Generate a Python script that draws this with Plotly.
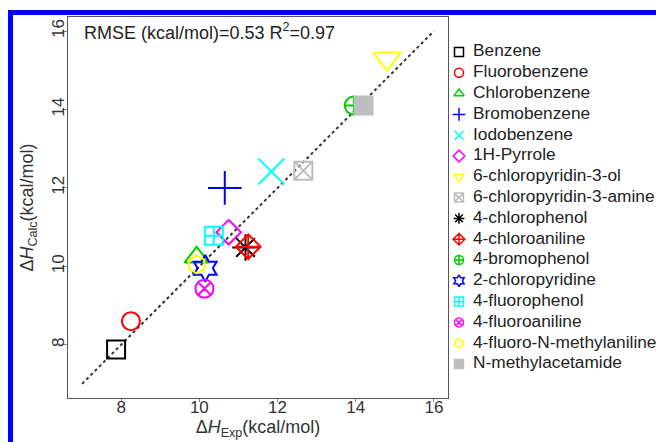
import plotly.graph_objects as go

names = ["Benzene", "Fluorobenzene", "Chlorobenzene", "Bromobenzene", "Iodobenzene",
         "1H-Pyrrole", "6-chloropyridin-3-ol", "6-chloropyridin-3-amine", "4-chlorophenol",
         "4-chloroaniline", "4-bromophenol", "2-chloropyridine", "4-fluorophenol",
         "4-fluoroaniline", "4-fluoro-N-methylaniline", "N-methylacetamide"]
dh_exp = [7.87, 8.25, 9.93, 10.65, 11.84, 10.75, 14.80, 12.66, 11.18,
          11.25, 13.95, 10.15, 10.37, 10.13, 9.93, 14.20]
dh_calc = [7.88, 8.60, 10.23, 12.00, 12.42, 10.87, 15.30, 12.44, 10.48,
           10.50, 14.10, 9.95, 10.78, 9.43, 10.05, 14.10]
symbols = ["square-open", "circle-open", "triangle-up-open", "cross-thin-open", "x-thin-open",
           "diamond-open", "triangle-down-open", "square-x-open", "asterisk-open",
           "diamond-cross-open", "circle-cross-open", "hexagram-open", "square-cross-open",
           "circle-x-open", "hexagon-open", "square"]
colors = ["#000000", "#FF0000", "#00CD00", "#0000FF", "#00FFFF", "#FF00FF", "#FFFF00", "#BEBEBE",
          "#000000", "#FF0000", "#00CD00", "#0000FF", "#00FFFF", "#FF00FF", "#FFFF00", "#BEBEBE"]
sizes = [18, 18, 21, 24, 26, 19, 24, 18, 22, 19, 18, 20, 18, 18, 18, 18]
ref_line = [7, 16]
x_ticks = [8, 10, 12, 14, 16]
y_ticks = [8, 10, 12, 14, 16]

FONT = "Liberation Sans, Arial, Helvetica, sans-serif"

# layout geometry (pixels)
W, H = 656, 442
ML, MT, MB = 68, 17, 44
PLOT_W = 380
area_w = W - ML
area_h = H - MT - MB
split = PLOT_W / area_w

fig = go.Figure()
fig.add_trace(go.Scatter(x=ref_line, y=ref_line, mode="lines",
                         line=dict(color="#333333", width=2, dash="dot"),
                         showlegend=False, hoverinfo="skip"))
for n, xv, yv, s, c, sz in zip(names, dh_exp, dh_calc, symbols, colors, sizes):
    fig.add_trace(go.Scatter(
        x=[xv], y=[yv], mode="markers", name=n, showlegend=False,
        marker=dict(symbol=s, size=sz, color=c, line=dict(color=c, width=2))))

# legend drawn on a hidden side axis (R-style key)
key_rows = [35 + 20.8 * i for i in range(len(names))]
fig.add_trace(go.Scatter(
    x=[11] * len(names), y=key_rows, mode="markers", xaxis="x2", yaxis="y2",
    showlegend=False, hoverinfo="skip",
    marker=dict(symbol=symbols, size=9, color=colors, line=dict(color=colors, width=1.5))))
fig.add_trace(go.Scatter(
    x=[25] * len(names), y=key_rows, mode="text", text=names, textposition="middle right",
    xaxis="x2", yaxis="y2", showlegend=False, hoverinfo="skip",
    textfont=dict(family=FONT, size=17.3, color="#222222")))

fig.update_layout(
    width=W, height=H,
    margin=dict(l=ML, r=0, t=MT, b=MB, pad=0),
    paper_bgcolor="white", plot_bgcolor="rgba(0,0,0,0)",
    font=dict(family=FONT, size=18, color="#222222"),
    showlegend=False,
    xaxis=dict(domain=[0, split], range=[6.64, 16.36], tickvals=x_ticks, showgrid=False,
               zeroline=False, showline=True, mirror=True, linecolor="#555555", linewidth=1,
               ticks="outside", ticklen=3, tickcolor="#888888", ticklabelstandoff=-9,
               tickfont=dict(size=17, color="#333333"),
               title=dict(text="Δ<i>H</i><sub>Exp</sub>(kcal/mol)", standoff=0,
                          font=dict(size=18, color="#333333")),
               automargin=False),
    yaxis=dict(range=[6.64, 16.36], tickvals=y_ticks, showgrid=False, zeroline=False,
               showline=True, mirror=True, linecolor="#555555", linewidth=1,
               ticks="outside", ticklen=5, tickcolor="#888888", tickangle=-90,
               ticklabelstandoff=-9,
               tickfont=dict(size=17, color="#333333"),
               title=dict(text="Δ<i>H</i><sub>Calc</sub>(kcal/mol)", standoff=10,
                          font=dict(size=18, color="#333333")),
               automargin=False),
    xaxis2=dict(domain=[split, 1], range=[0, W - ML - PLOT_W], visible=False,
                anchor="y2", fixedrange=True),
    yaxis2=dict(domain=[0, 1], range=[area_h, 0], visible=False, anchor="x2",
                fixedrange=True),
    annotations=[dict(text="RMSE (kcal/mol)=0.53 R<sup>2</sup>=0.97", xref="paper", yref="paper",
                      x=0.024, y=0.997, xanchor="left", yanchor="top", showarrow=False,
                      font=dict(size=18, color="#222222"))],
    shapes=[
        dict(type="line", xref="paper", yref="paper",
             x0=(10.5 - ML) / area_w, x1=(10.5 - ML) / area_w,
             y0=(H - MB - 10) / area_h, y1=(H - MB - 460) / area_h,
             line=dict(color="#0000FF", width=5)),
        dict(type="line", xref="paper", yref="paper",
             x0=(8 - ML) / area_w, x1=(700 - ML) / area_w,
             y0=(H - MB - 12.5) / area_h, y1=(H - MB - 12.5) / area_h,
             line=dict(color="#0000FF", width=5)),
    ],
)

fig.write_html("out.html", config={"displayModeBar": False},
               post_script="document.body.style.margin='0';document.body.style.overflow='hidden';")
